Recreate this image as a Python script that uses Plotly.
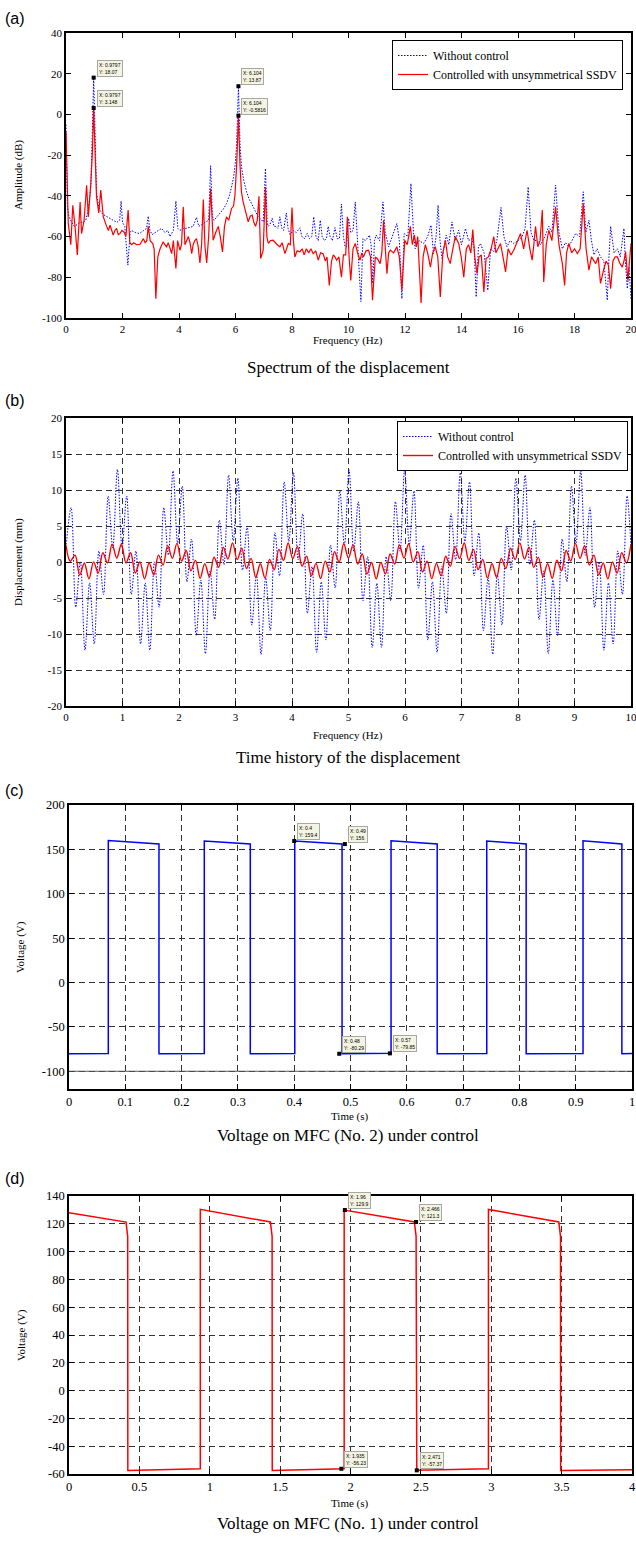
import plotly.graph_objects as go

W, H = 636, 1544
SERIF = "Liberation Serif"
SANS = "Liberation Sans"

# ---------------- (a) Spectrum of the displacement ----------------
freq_blue = [0.0, 0.05, 0.1, 0.2, 0.3, 0.4, 0.5, 0.6, 0.7, 0.8, 0.88, 0.93, 0.9797, 1.03, 1.08, 1.15, 1.2, 1.3,
             1.44, 1.55, 1.67, 1.8, 1.9, 1.95, 2.0, 2.08, 2.19, 2.27, 2.32, 2.45, 2.6, 2.75, 2.85, 2.91, 2.97,
             3.05, 3.15, 3.25, 3.38, 3.5, 3.6, 3.68, 3.8, 3.89, 3.96, 4.03, 4.15, 4.25, 4.39, 4.5, 4.62, 4.7,
             4.86, 4.95, 5.05, 5.12, 5.18, 5.24, 5.35, 5.45, 5.57, 5.68, 5.78, 5.86, 5.93, 5.98, 6.04, 6.104,
             6.16, 6.21, 6.3, 6.39, 6.48, 6.57, 6.68, 6.8, 6.9, 6.98, 7.06, 7.12, 7.16, 7.22, 7.3, 7.36, 7.43,
             7.5, 7.57, 7.64, 7.7, 7.8, 7.86, 7.93, 8.05, 8.15, 8.28, 8.35, 8.45, 8.54, 8.62, 8.7, 8.77, 8.85,
             8.93, 9.0, 9.07, 9.15, 9.22, 9.28, 9.35, 9.43, 9.52, 9.6, 9.68, 9.75, 9.82, 9.88, 9.93, 10.0,
             10.08, 10.16, 10.24, 10.32, 10.44, 10.51, 10.6, 10.74, 10.8, 10.86, 10.92, 10.98, 11.1, 11.22,
             11.3, 11.42, 11.55, 11.71, 11.8, 11.89, 11.97, 12.1, 12.21, 12.3, 12.36, 12.5, 12.66, 12.8, 12.92,
             13.01, 13.1, 13.17, 13.24, 13.31, 13.46, 13.55, 13.66, 13.78, 13.9, 14.0, 14.14, 14.25, 14.37,
             14.45, 14.52, 14.6, 14.67, 14.8, 14.93, 15.03, 15.14, 15.25, 15.4, 15.5, 15.61, 15.72, 15.85,
             16.0, 16.15, 16.25, 16.36, 16.46, 16.56, 16.68, 16.8, 16.95, 17.09, 17.2, 17.33, 17.45, 17.57,
             17.68, 17.8, 17.92, 18.04, 18.18, 18.31, 18.4, 18.51, 18.6, 18.69, 18.8, 18.92, 19.04, 19.16,
             19.22, 19.28, 19.4, 19.52, 19.62, 19.75, 19.8, 19.87, 19.93, 20.0]
amp_blue = [-5, -45, -50, -53, -55, -54, -53, -53, -52, -46, -35, -10, 18.07, -10, -38, -45, -47, -49,
            -50, -51, -52, -53, -52, -42.6, -53, -55, -74, -58, -57, -58, -58.5, -57, -56, -50, -57,
            -59, -58, -57, -56, -58, -57, -60, -57, -42.6, -56, -57, -56, -56, -55.5, -55, -50.6, -55,
            -53.6, -53, -52, -25.2, -50, -52, -50, -48.7, -46.5, -43.8, -40, -35.6, -31, -25.7, -15, 13.87,
            -15, -25.7, -33, -38, -41.5, -43.8, -47, -50.3, -51.5, -52.8, -26.6, -53, -55, -54, -51, -55, -55,
            -56, -50.3, -56, -57, -48.4, -56, -59, -57, -58, -55.7, -60, -61, -58.5, -61, -60, -50.3, -60,
            -62, -52, -60, -62, -61, -55, -60, -62, -55.6, -61, -61, -44, -60, -65, -65, -51,
            -58, -57, -43, -65, -92, -61, -62, -59.3, -64, -83, -62, -59.3, -62, -43,
            -58, -65, -60, -53.6, -62, -90.5, -58.5, -60, -34, -58, -66, -62, -63.4, -60, -54.4,
            -68.4, -60, -44.6, -62, -70.8, -59.3, -64, -52.8, -62, -56.9, -64, -56, -62, -61,
            -66, -89.7, -65, -63.4, -68, -86.4, -66, -67.5, -62, -45.7, -60, -65, -62, -63.4,
            -62, -60, -56, -35.6, -58, -61.8, -62, -64, -60, -55, -58, -34.8, -58, -66,
            -63, -65, -62, -58.5, -60, -38, -58, -52, -62, -69, -66, -70, -72, -91.3,
            -70, -55, -68, -66, -70, -56, -72, -85.6, -75, -90.5]

freq_red = [0.0, 0.04, 0.08, 0.12, 0.17, 0.24, 0.32, 0.4, 0.45, 0.5, 0.55, 0.64, 0.73, 0.79, 0.87, 0.93, 0.9797,
            1.03, 1.08, 1.16, 1.23, 1.32, 1.38, 1.44, 1.5, 1.56, 1.62, 1.67, 1.73, 1.79, 1.85, 1.91, 1.98, 2.05,
            2.12, 2.2, 2.26, 2.32, 2.4, 2.5, 2.62, 2.68, 2.74, 2.8, 2.86, 2.91, 2.98, 3.07, 3.12, 3.18, 3.25,
            3.33, 3.38, 3.44, 3.5, 3.56, 3.62, 3.68, 3.74, 3.8, 3.85, 3.89, 3.95, 4.03, 4.09, 4.15, 4.21, 4.27,
            4.33, 4.39, 4.45, 4.5, 4.56, 4.62, 4.68, 4.74, 4.8, 4.86, 4.92, 4.98, 5.05, 5.12, 5.17, 5.21, 5.3,
            5.39, 5.46, 5.54, 5.61, 5.68, 5.76, 5.86, 5.93, 5.98, 6.04, 6.104, 6.16, 6.21, 6.27, 6.33, 6.39,
            6.45, 6.52, 6.59, 6.65, 6.71, 6.77, 6.83, 6.89, 6.98, 7.06, 7.11, 7.16, 7.24, 7.33, 7.4, 7.48, 7.57,
            7.65, 7.75, 7.81, 7.87, 7.94, 8.0, 8.05, 8.1, 8.18, 8.28, 8.36, 8.43, 8.51, 8.59, 8.67, 8.75, 8.84,
            8.93, 9.01, 9.1, 9.18, 9.24, 9.32, 9.4, 9.46, 9.52, 9.58, 9.66, 9.75, 9.82, 9.9, 9.96, 10.02, 10.08,
            10.16, 10.24, 10.32, 10.41, 10.47, 10.53, 10.62, 10.71, 10.78, 10.85, 10.95, 11.03, 11.12, 11.18,
            11.24, 11.3, 11.36, 11.42, 11.48, 11.6, 11.71, 11.8, 11.89, 11.99, 12.08, 12.19, 12.26, 12.33, 12.4,
            12.45, 12.57, 12.64, 12.72, 12.8, 12.9, 12.98, 13.07, 13.16, 13.25, 13.34, 13.43, 13.51, 13.6,
            13.68, 13.78, 13.9, 13.99, 14.08, 14.17, 14.25, 14.33, 14.4, 14.47, 14.55, 14.62, 14.7, 14.79,
            14.87, 14.95, 15.05, 15.14, 15.22, 15.3, 15.38, 15.47, 15.56, 15.65, 15.75, 15.85, 15.96, 16.09,
            16.2, 16.32, 16.42, 16.5, 16.56, 16.62, 16.7, 16.78, 16.86, 16.91, 17.0, 17.09, 17.2, 17.33, 17.45,
            17.57, 17.65, 17.72, 17.8, 17.9, 18.0, 18.1, 18.2, 18.31, 18.41, 18.51, 18.6, 18.68, 18.75, 18.84,
            18.92, 19.04, 19.12, 19.2, 19.28, 19.36, 19.44, 19.52, 19.6, 19.69, 19.75, 19.81, 19.89, 20.0]
amp_red = [-8.5, -40, -53.6, -58, -64, -44.6, -55, -69, -55, -43, -58.5, -52, -34.8, -50.3, -35.6, -20, 3.148,
           -20, -40.5, -48.4, -37.2, -50.3, -53, -55, -57, -54.4, -57, -59.3, -57, -56, -59, -58.5, -57, -57.7,
           -60, -47, -63, -64, -63, -64, -63.8, -62, -61, -63, -62, -55, -62, -63.4, -66, -90.5, -70,
           -66, -64, -62.6, -64, -65, -63, -66, -68.4, -62, -70, -75.7, -62, -66.7, -64, -45.4, -64, -62,
           -60, -63, -68.4, -64, -62, -61, -65, -73, -64, -41.8, -65, -73, -60, -36.4, -55, -61.8, -58,
           -55, -60, -67.5, -55, -50.3, -52, -46.2, -45, -39.7, -25, -0.5816, -25, -38, -43, -46.2, -50,
           -52.8, -50, -49.5, -53, -55, -52, -40.2, -70.8, -66.7, -35.6, -60, -63.4, -62, -61.8, -63, -64, -65,
           -63, -68.4, -66, -63.4, -64, -45.7, -62, -70, -67, -67.5, -66, -69, -66, -68, -66, -68.4, -67,
           -71.6, -68, -68.4, -72, -70, -84, -72, -69, -70, -71.6, -70, -80, -69, -69, -50.3, -70, -81.5,
           -66, -63.4, -68, -71.6, -68, -70, -67, -66.7, -70, -91.3, -70, -71, -73.3, -68,
           -52, -66, -78.2, -68, -66.7, -68, -65, -70, -86.4, -61.8, -64, -55, -64, -59.3, -65,
           -60, -92.6, -70, -64, -68, -75, -68, -65, -70, -89.7, -68, -61.8, -70, -73.3,
           -67, -60, -63.4, -70, -80, -66, -64, -68, -56.6, -70, -78.2, -70, -69, -87.2,
           -70.8, -70, -66, -60, -68, -66, -63.4, -70, -77.4, -66, -69, -66.7, -63, -58.5,
           -66, -56.9, -66, -71.6, -64, -55, -65, -62, -47, -82.3, -64, -56.9, -62, -45.4, -64,
           -73.3, -84, -68, -63.4, -68, -66, -68.4, -66, -43.8, -66, -76.5, -70, -72, -73.3, -70,
           -83, -75.7, -72, -74, -85.6, -72, -70, -70, -73, -75, -72, -67.5, -81.5, -63.4]

tips_a_x = [0.9797, 0.9797, 6.104, 6.104]
tips_a_y = [18.07, 3.148, 13.87, -0.5816]
tips_a_txt = ["X: 0.9797<br>Y: 18.07", "X: 0.9797<br>Y: 3.148", "X: 6.104<br>Y: 13.87", "X: 6.104<br>Y: -0.5816"]

# ---------------- (b) Time history of the displacement ----------------
t_blue = [0.0, 0.090, 0.172, 0.254, 0.336, 0.418, 0.500, 0.582, 0.664, 0.746, 0.828, 0.910, 0.992, 1.074, 1.156,
          1.238, 1.320, 1.402, 1.484, 1.566, 1.648, 1.730, 1.812, 1.894, 1.976, 2.058, 2.140, 2.222, 2.304,
          2.386, 2.468, 2.550, 2.632, 2.714, 2.796, 2.878, 2.960, 3.042, 3.124, 3.206, 3.288, 3.370, 3.452,
          3.534, 3.616, 3.698, 3.780, 3.862, 3.944, 4.026, 4.108, 4.190, 4.272, 4.354, 4.436, 4.518, 4.600,
          4.682, 4.764, 4.846, 4.928, 5.010, 5.092, 5.174, 5.256, 5.338, 5.420, 5.502, 5.584, 5.666, 5.748,
          5.830, 5.912, 5.994, 6.076, 6.158, 6.240, 6.322, 6.404, 6.486, 6.568, 6.650, 6.732, 6.814, 6.896,
          6.978, 7.060, 7.142, 7.224, 7.306, 7.388, 7.470, 7.552, 7.634, 7.716, 7.798, 7.880, 7.962, 8.044,
          8.126, 8.208, 8.290, 8.372, 8.454, 8.536, 8.618, 8.700, 8.782, 8.864, 8.946, 9.028, 9.110, 9.192,
          9.274, 9.356, 9.438, 9.520, 9.602, 9.684, 9.766, 9.848, 9.930, 10.0]
d_blue = [2.0, 7.56, -6.27, 0.03, -12.25, -2.90, -11.39, 1.52, -4.51, 9.15, 1.96,
          12.85, 1.97, 9.16, -4.50, 1.53, -11.39, -2.90, -12.25, 0.02, -6.28,
          7.56, 0.94, 12.65, 2.64, 10.54, -2.76, 3.19, -10.21, -2.51, -12.74,
          -1.23, -7.97, 5.83, -0.38, 12.07, 2.94, 11.64, -1.13, 4.95, -8.77,
          -1.74, -12.84, -2.17, -9.52, 4.07, -1.92, 11.13, 2.84, 12.41, 0.31,
          6.70, -7.14, -0.64, -12.54, -2.75, -10.84, 2.35, -3.62, 9.88, 2.35,
          12.80, 1.49, 8.37, -5.40, 0.74, -11.87, -2.95, -11.86, 0.75, -5.39,
          8.39, 1.50, 12.80, 2.35, 9.87, -3.64, 2.33, -10.84, -2.75, -12.54,
          -0.63, -7.13, 6.72, 0.32, 12.41, 2.84, 11.12, -1.94, 4.05, -9.53,
          -2.17, -12.84, -1.73, -8.76, 4.96, -1.12, 11.65, 2.94, 12.06, -0.39,
          5.82, -7.99, -1.23, -12.74, -2.50, -10.20, 3.21, -2.75, 10.55, 2.65,
          12.65, 0.93, 7.54, -6.29, 0.01, -12.26, -2.90, -11.38, 1.54, -4.49,
          9.17, 1.97]

t_red = [0.0, 0.075, 0.160, 0.242, 0.324, 0.406, 0.488, 0.570, 0.652, 0.734, 0.816, 0.898, 0.980, 1.062, 1.144,
         1.226, 1.308, 1.390, 1.472, 1.554, 1.636, 1.718, 1.800, 1.882, 1.964, 2.046, 2.128, 2.210, 2.292,
         2.374, 2.456, 2.538, 2.620, 2.702, 2.784, 2.866, 2.948, 3.030, 3.112, 3.194, 3.276, 3.358, 3.440,
         3.522, 3.604, 3.686, 3.768, 3.850, 3.932, 4.014, 4.096, 4.178, 4.260, 4.342, 4.424, 4.506, 4.588,
         4.670, 4.752, 4.834, 4.916, 4.998, 5.080, 5.162, 5.244, 5.326, 5.408, 5.490, 5.572, 5.654, 5.736,
         5.818, 5.900, 5.982, 6.064, 6.146, 6.228, 6.310, 6.392, 6.474, 6.556, 6.638, 6.720, 6.802, 6.884,
         6.966, 7.048, 7.130, 7.212, 7.294, 7.376, 7.458, 7.540, 7.622, 7.704, 7.786, 7.868, 7.950, 8.032,
         8.114, 8.196, 8.278, 8.360, 8.442, 8.524, 8.606, 8.688, 8.770, 8.852, 8.934, 9.016, 9.098, 9.180,
         9.262, 9.344, 9.426, 9.508, 9.590, 9.672, 9.754, 9.836, 9.918, 10.0]
d_red = [2.3, 0.1,
         0.96, -1.80, -0.14, -2.34, 0.02, -1.53, 1.28, -0.13, 2.47, 0.55,
         2.47, -0.13, 1.28, -1.53, 0.02, -2.34, -0.14, -1.80, 0.96, -0.42,
         2.28, 0.51, 2.59, 0.13, 1.60, -1.22, 0.23, -2.27, -0.23, -2.03,
         0.65, -0.74, 2.04, 0.41, 2.65, 0.33, 1.90, -0.90, 0.50, -2.13,
         -0.25, -2.21, 0.36, -1.06, 1.76, 0.23, 2.63, 0.47, 2.17, -0.58,
         0.80, -1.93, -0.19, -2.31, 0.12, -1.38, 1.44, 0.00, 2.54, 0.54,
         2.38, -0.27, 1.12, -1.67, -0.07, -2.35, -0.07, -1.67, 1.12, -0.27,
         2.38, 0.54, 2.54, 0.00, 1.44, -1.38, 0.12, -2.31, -0.19, -1.92,
         0.80, -0.58, 2.17, 0.47, 2.63, 0.23, 1.75, -1.06, 0.36, -2.21,
         -0.25, -2.13, 0.50, -0.90, 1.90, 0.33, 2.65, 0.41, 2.04, -0.74,
         0.64, -2.04, -0.23, -2.27, 0.24, -1.22, 1.60, 0.13, 2.59, 0.51,
         2.28, -0.42, 0.95, -1.81, -0.14, -2.34, 0.02, -1.53, 1.28, -0.13,
         2.47]

# ---------------- (c) Voltage on MFC (No. 2) ----------------
t_c = [0, 0.0698, 0.0698, 0.1598, 0.1598, 0.2403, 0.2403, 0.322, 0.322, 0.401, 0.401, 0.485, 0.485, 0.572, 0.572,
       0.654, 0.654, 0.742, 0.742, 0.812, 0.812, 0.913, 0.913, 0.982, 0.982, 1.0]
v_c = [-80.2, -79.9, 160.0, 156.0, -80.3, -79.9, 159.4, 156.0, -80.3, -79.9, 159.4, 156.0, -80.29, -79.85, 159.6,
       156.0, -80.3, -79.9, 159.5, 156.0, -80.3, -79.9, 159.6, 156.0, -80.3, -80.1]
tips_c_x = [0.4, 0.49, 0.48, 0.57]
tips_c_y = [159.4, 156, -80.29, -79.85]
tips_c_txt = ["X: 0.4<br>Y: 159.4", "X: 0.49<br>Y: 156", "X: 0.48<br>Y: -80.29", "X: 0.57<br>Y: -79.85"]

# ---------------- (d) Voltage on MFC (No. 1) ----------------
t_d = [0, 0.405, 0.417, 0.418, 0.933, 0.933, 1.431, 1.443, 1.444, 1.955, 1.955, 2.454, 2.466, 2.471, 2.98,
       2.98, 3.48, 3.492, 3.493, 4.0]
v_d = [128.0, 121.2, 111.0, -57.4, -56.2, 130.4, 121.3, 111.0, -57.4, -56.2, 129.9, 121.3, 111.0, -57.37, -56.2,
       130.3, 121.3, 111.0, -57.4, -57.0]
tips_d_x = [1.96, 2.466, 1.935, 2.471]
tips_d_y = [129.9, 121.3, -56.23, -57.37]
tips_d_txt = ["X: 1.96<br>Y: 129.9", "X: 2.466<br>Y: 121.3", "X: 1.935<br>Y: -56.23", "X: 2.471<br>Y: -57.37"]

# tick labels (hyphen minus as in the original)
ticks_a_y = [-100, -80, -60, -40, -20, 0, 20, 40]
ticks_b_y = [-20, -15, -10, -5, 0, 5, 10, 15, 20]
ticks_c_y = [-100, -50, 0, 50, 100, 150, 200]
ticks_d_y = [-60, -40, -20, 0, 20, 40, 60, 80, 100, 120, 140]

# ======================================================================
fig = go.Figure()

DOT = "1.5px,1.5px"
fig.add_trace(go.Scatter(x=freq_blue, y=amp_blue, mode="lines", name="Without control",
                         line=dict(color="#0000ff", width=1, dash=DOT), xaxis="x", yaxis="y", legend="legend"))
fig.add_trace(go.Scatter(x=freq_red, y=amp_red, mode="lines", name="Controlled with unsymmetrical SSDV",
                         line=dict(color="#ff0000", width=1.2), xaxis="x", yaxis="y", legend="legend"))
fig.add_trace(go.Scatter(x=tips_a_x, y=tips_a_y, mode="markers", showlegend=False,
                         marker=dict(symbol="square", size=4, color="black"), xaxis="x", yaxis="y"))

fig.add_trace(go.Scatter(x=t_blue, y=d_blue, mode="lines", name="Without control",
                         line=dict(color="#0000ff", width=1, dash=DOT, shape="spline", smoothing=1.0),
                         xaxis="x2", yaxis="y2", legend="legend2"))
fig.add_trace(go.Scatter(x=t_red, y=d_red, mode="lines", name="Controlled with unsymmetrical SSDV",
                         line=dict(color="#ff0000", width=1.4, shape="spline", smoothing=1.0),
                         xaxis="x2", yaxis="y2", legend="legend2"))

fig.add_trace(go.Scatter(x=t_c, y=v_c, mode="lines", showlegend=False,
                         line=dict(color="#0000ff", width=1.5), xaxis="x3", yaxis="y3"))
fig.add_trace(go.Scatter(x=tips_c_x, y=tips_c_y, mode="markers", showlegend=False,
                         marker=dict(symbol="square", size=4, color="black"), xaxis="x3", yaxis="y3"))

fig.add_trace(go.Scatter(x=t_d, y=v_d, mode="lines", showlegend=False,
                         line=dict(color="#ff0000", width=1.5), xaxis="x4", yaxis="y4"))
fig.add_trace(go.Scatter(x=tips_d_x, y=tips_d_y, mode="markers", showlegend=False,
                         marker=dict(symbol="square", size=4, color="black"), xaxis="x4", yaxis="y4"))


def ydom(top, bottom):
    return [1 - bottom / H, 1 - top / H]


base = dict(showline=True, linecolor="black", linewidth=1.5, mirror="ticks", ticks="inside", ticklen=5,
            tickcolor="black", zeroline=False, showgrid=False, ticklabeloverflow="allow",
            tickfont=dict(family=SERIF, size=11, color="black"))
gbase = {**base, **dict(showgrid=True, gridcolor="#333333", gridwidth=1, griddash="6px,4px")}
big = dict(family=SERIF, size=12.5, color="black")


def yt(vals):
    return dict(tickmode="array", tickvals=vals, ticktext=[str(v) for v in vals])


fig.update_layout(
    width=W, height=H, margin=dict(l=0, r=0, t=0, b=0),
    paper_bgcolor="white", plot_bgcolor="white", template="none",
    font=dict(family=SERIF, color="black"),
    xaxis={**base, "domain": [66 / W, 631 / W], "anchor": "y", "range": [0, 20], "tick0": 0, "dtick": 2},
    yaxis={**base, **yt(ticks_a_y), "domain": ydom(33, 318), "anchor": "x", "range": [-100, 40]},
    xaxis2={**gbase, "domain": [66 / W, 631 / W], "anchor": "y2", "range": [0, 10], "tick0": 0, "dtick": 1},
    yaxis2={**gbase, **yt(ticks_b_y), "domain": ydom(418, 706), "anchor": "x2", "range": [-20, 20]},
    xaxis3={**gbase, "domain": [69 / W, 632 / W], "anchor": "y3", "range": [0, 1], "tick0": 0, "dtick": 0.1,
            "tickfont": big},
    yaxis3={**gbase, **yt(ticks_c_y), "domain": ydom(805, 1089), "anchor": "x3", "range": [-120, 200],
            "tickfont": big},
    xaxis4={**gbase, "domain": [69 / W, 632 / W], "anchor": "y4", "range": [0, 4], "tick0": 0, "dtick": 0.5,
            "tickfont": big},
    yaxis4={**gbase, **yt(ticks_d_y), "domain": ydom(1196, 1474), "anchor": "x4", "range": [-60, 140],
            "tickfont": big},
    legend=dict(x=623 / W, y=1 - 40 / H, xanchor="right", yanchor="top", bordercolor="black", borderwidth=1,
                bgcolor="white", font=dict(family=SERIF, size=12, color="black"), tracegroupgap=0, itemwidth=30),
    legend2=dict(x=628 / W, y=1 - 421 / H, xanchor="right", yanchor="top", bordercolor="black", borderwidth=1,
                 bgcolor="white", font=dict(family=SERIF, size=12, color="black"), tracegroupgap=0, itemwidth=30),
)

# solid reference line at -100 V in panel (c)
fig.add_shape(type="line", xref="x3 domain", yref="y3", x0=0, x1=1, y0=-100, y1=-100,
              line=dict(color="#555555", width=1))

ann = []
for lab, py in [("(a)", 18), ("(b)", 400), ("(c)", 790), ("(d)", 1178)]:
    ann.append(dict(text=lab, x=3 / W, y=1 - py / H, xref="paper", yref="paper", xanchor="left",
                    yanchor="middle", showarrow=False, font=dict(family=SANS, size=16, color="black")))
for txt, py in [("Spectrum of the displacement", 368), ("Time history of the displacement", 757),
                ("Voltage on MFC (No. 2) under control", 1135), ("Voltage on MFC (No. 1) under control", 1523)]:
    ann.append(dict(text=txt, x=348 / W, y=1 - py / H, xref="paper", yref="paper", xanchor="center",
                    yanchor="middle", showarrow=False, font=dict(family=SERIF, size=17, color="black")))
for txt, px_, py in [("Frequency (Hz)", 348, 340), ("Frequency (Hz)", 348, 736), ("Time (s)", 350, 1116),
                     ("Time (s)", 350, 1503)]:
    ann.append(dict(text=txt, x=px_ / W, y=1 - py / H, xref="paper", yref="paper", xanchor="center",
                    yanchor="middle", showarrow=False, font=dict(family=SERIF, size=11, color="black")))
for txt, px_, py in [("Amplitude (dB)", 19, 175), ("Displacement (mm)", 19, 562), ("Voltage (V)", 21, 947),
                     ("Voltage (V)", 21, 1335)]:
    ann.append(dict(text=txt, x=px_ / W, y=1 - py / H, xref="paper", yref="paper", xanchor="center",
                    yanchor="middle", textangle=-90, showarrow=False,
                    font=dict(family=SERIF, size=11, color="black")))
for axn, xs, ys, ts in [("", tips_a_x, tips_a_y, tips_a_txt), ("3", tips_c_x, tips_c_y, tips_c_txt),
                        ("4", tips_d_x, tips_d_y, tips_d_txt)]:
    for xv, yv, tv in zip(xs, ys, ts):
        ann.append(dict(text=tv, x=xv, y=yv, xref="x" + axn, yref="y" + axn, xanchor="left", yanchor="bottom",
                        xshift=3, yshift=1, showarrow=False, align="left", bgcolor="#f4f4e2",
                        bordercolor="#a8a8a0", borderwidth=1, borderpad=1,
                        font=dict(family=SANS, size=5, color="black")))
fig.update_layout(annotations=ann)

fig.write_html("out.html", config={"displayModeBar": False},
               post_script="document.body.style.margin='0px';document.body.style.padding='0px';"
                           "document.body.style.overflow='hidden';")
